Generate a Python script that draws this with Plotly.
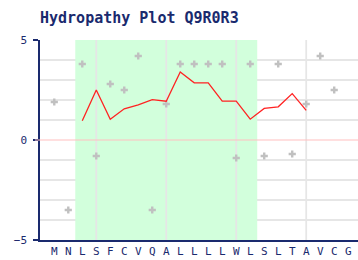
import plotly.graph_objects as go

residues = ["M","N","L","S","F","C","V","Q","A","L","L","L","L","W","L","S","L","T","A","V","C","G"]
hydropathy = [1.9,-3.5,3.8,-0.8,2.8,2.5,4.2,-3.5,1.8,3.8,3.8,3.8,3.8,-0.9,3.8,-0.8,3.8,-0.7,1.8,4.2,2.5,None]
avg_index = list(range(2, 19))
avg_values = [0.96,2.5,1.04,1.56,1.76,2.02,1.94,3.4,2.86,2.86,1.94,1.94,1.04,1.58,1.66,2.32,1.48]
region_start, region_end = 1.5, 14.5
grid_x = [3, 8, 13, 18]

navy = "#1a2a6e"
fig = go.Figure()

fig.add_shape(type="rect", xref="x", yref="y", x0=region_start, x1=region_end, y0=-5, y1=5,
              fillcolor="#d2ffdc", line_width=0, layer="below")
for gx in grid_x:
    fig.add_shape(type="line", xref="x", yref="y", x0=gx, x1=gx, y0=-5, y1=5,
                  line=dict(color="#e6e6e6", width=1.8), layer="below")
for v in range(-4, 5):
    if v != 0:
        fig.add_shape(type="line", xref="paper", yref="y", x0=0, x1=1, y0=v, y1=v,
                      line=dict(color="#e6e6e6", width=1.8), layer="below")
fig.add_shape(type="line", xref="paper", yref="y", x0=-0.016, x1=1, y0=0, y1=0,
              line=dict(color="#ffc0c0", width=1.2))

fig.add_trace(go.Scatter(x=list(range(len(residues))), y=hydropathy, mode="markers",
                         marker=dict(symbol="cross", size=6, color="#c0c0c0"),
                         hoverinfo="skip"))
fig.add_trace(go.Scatter(x=avg_index, y=avg_values, mode="lines",
                         line=dict(color="#ff2222", width=1.3), hoverinfo="skip"))

fig.update_layout(
    width=358, height=260,
    margin=dict(l=40, r=0, t=40, b=20),
    paper_bgcolor="white", plot_bgcolor="white",
    showlegend=False,
    title=dict(text="<b>Hydropathy Plot Q9R0R3</b>", x=40/358, xanchor="left", y=1-18/260, yanchor="middle",
               font=dict(family="DejaVu Sans Mono", size=15, color=navy)),
    font=dict(family="DejaVu Sans Mono", color=navy, size=11),
)
fig.update_xaxes(range=[-1.02, 21.7], tickmode="array", tickvals=list(range(len(residues))),
                 ticktext=residues, showgrid=False, zeroline=False, showline=True,
                 linecolor=navy, linewidth=1.5, ticks="", tickfont=dict(size=11))
fig.update_yaxes(range=[-5, 5], tickmode="array", tickvals=[-5, 0, 5], ticktext=["\u22125", "0", "5"],
                 showgrid=False, zeroline=False, showline=True, linecolor=navy, linewidth=1.5,
                 ticks="outside", ticklen=5, tickcolor=navy, tickwidth=1.5, tickfont=dict(size=11),
                 ticklabelstandoff=4)

fig.write_html("out.html")
